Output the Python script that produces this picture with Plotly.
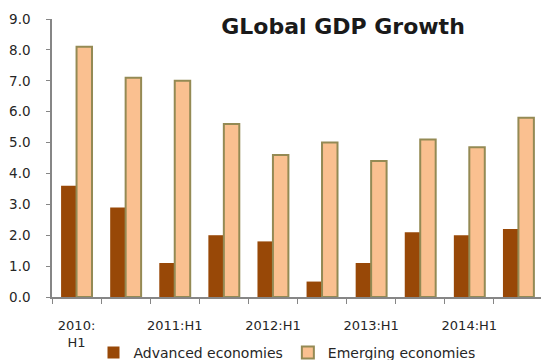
import plotly.graph_objects as go

# Half-year periods and real GDP growth (%, annualised)
periods = ["2010:H1", "2010:H2", "2011:H1", "2011:H2", "2012:H1",
           "2012:H2", "2013:H1", "2013:H2", "2014:H1", "2014:H2"]
tick_text = ["2010:<br>H1", "", "2011:H1", "", "2012:H1",
             "", "2013:H1", "", "2014:H1", ""]
advanced = [3.6, 2.9, 1.1, 2.0, 1.8, 0.5, 1.1, 2.1, 2.0, 2.2]
emerging = [8.1, 7.1, 7.0, 5.6, 4.6, 5.0, 4.4, 5.1, 4.85, 5.8]
y_ticks = [0, 1, 2, 3, 4, 5, 6, 7, 8, 9]

FONT = "DejaVu Sans"
TEXT = "#262626"
AXIS = "#868686"

fig = go.Figure()
fig.add_trace(go.Bar(
    x=periods, y=advanced, name="Advanced economies",
    marker=dict(color="#984807", line=dict(width=0)),
))
fig.add_trace(go.Bar(
    x=periods, y=emerging, name="Emerging economies",
    marker=dict(color="#FAC090", line=dict(color="#948A54", width=2)),
))

fig.update_layout(
    width=541, height=360,
    margin=dict(l=52, r=0, t=19, b=63),
    paper_bgcolor="white", plot_bgcolor="white",
    barmode="group", bargap=0.37, bargroupgap=0,
    font=dict(family=FONT, color=TEXT, size=13),
    title=dict(
        text="<b>GLobal GDP Growth</b>",
        font=dict(family=FONT, size=22, color="#1a1a1a"),
        x=343 / 541, xanchor="center", xref="container",
        y=1 - 26 / 360, yanchor="middle", yref="container",
        automargin=False,
    ),
    showlegend=True,
    legend=dict(
        orientation="h",
        x=287 / 541, xanchor="center", xref="container",
        y=1 - 353 / 360, yanchor="middle", yref="container",
        font=dict(family=FONT, size=14, color=TEXT),
        itemwidth=30, tracegroupgap=0,
        bgcolor="rgba(0,0,0,0)",
    ),
)

fig.update_xaxes(
    type="category",
    range=[-0.5, 9.46],
    tickmode="array", tickvals=periods, ticktext=tick_text,
    tickson="boundaries", tickangle=0,
    ticks="outside", ticklen=5, tickwidth=1, tickcolor=AXIS,
    showline=True, linecolor=AXIS, linewidth=1.5,
    showgrid=False, zeroline=False, automargin=False,
    tickfont=dict(family=FONT, size=13, color=TEXT),
    ticklabelstandoff=16,
)
fig.update_yaxes(
    range=[0, 9],
    tickmode="array", tickvals=y_ticks, tickformat=".1f",
    ticks="outside", ticklen=4, tickwidth=1, tickcolor=AXIS,
    showline=True, linecolor=AXIS, linewidth=1.5,
    showgrid=False, zeroline=False, automargin=False,
    tickfont=dict(family=FONT, size=13.5, color=TEXT),
    ticklabelstandoff=13,
)

fig.write_html("out.html")
